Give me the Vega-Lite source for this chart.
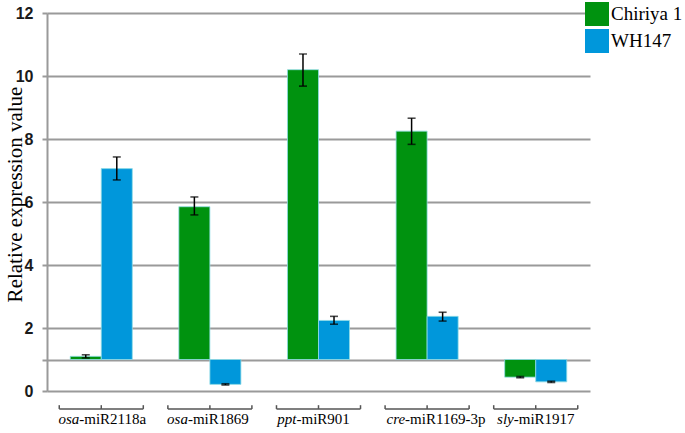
{
  "$schema": "https://vega.github.io/schema/vega-lite/v6.json",
  "width": 543,
  "height": 378,
  "autosize": {"type": "none"},
  "padding": {"left": 47, "top": 13, "right": 95, "bottom": 42},
  "background": "white",
  "config": {"view": {"stroke": null}},
  "datasets": {
    "bars": [
      {"mirna": "osa-miR2118a", "series": "Chiriya 1", "value": 1.10, "lo": 1.05, "hi": 1.15},
      {"mirna": "osa-miR2118a", "series": "WH147", "value": 7.06, "lo": 6.70, "hi": 7.43},
      {"mirna": "osa-miR1869", "series": "Chiriya 1", "value": 5.85, "lo": 5.59, "hi": 6.16},
      {"mirna": "osa-miR1869", "series": "WH147", "value": 0.21, "lo": 0.19, "hi": 0.23},
      {"mirna": "ppt-miR901", "series": "Chiriya 1", "value": 10.2, "lo": 9.68, "hi": 10.7},
      {"mirna": "ppt-miR901", "series": "WH147", "value": 2.24, "lo": 2.12, "hi": 2.37},
      {"mirna": "cre-miR1169-3p", "series": "Chiriya 1", "value": 8.25, "lo": 7.83, "hi": 8.66},
      {"mirna": "cre-miR1169-3p", "series": "WH147", "value": 2.37, "lo": 2.22, "hi": 2.50},
      {"mirna": "sly-miR1917", "series": "Chiriya 1", "value": 0.44, "lo": 0.42, "hi": 0.46},
      {"mirna": "sly-miR1917", "series": "WH147", "value": 0.29, "lo": 0.27, "hi": 0.31}
    ],
    "cats": [
      {"mirna": "osa-miR2118a", "pre": "osa-", "suf": "miR2118a"},
      {"mirna": "osa-miR1869", "pre": "osa-", "suf": "miR1869"},
      {"mirna": "ppt-miR901", "pre": "ppt-", "suf": "miR901"},
      {"mirna": "cre-miR1169-3p", "pre": "cre-", "suf": "miR1169-3p"},
      {"mirna": "sly-miR1917", "pre": "sly-", "suf": "miR1917"}
    ]
  },
  "layer": [
    {
      "data": {"name": "bars"},
      "mark": {"type": "bar", "stroke": "#8fdce6", "strokeWidth": 0.8},
      "encoding": {
        "x": {"field": "mirna", "type": "nominal", "axis": null,
              "scale": {"type": "band", "domain": ["osa-miR2118a", "osa-miR1869", "ppt-miR901", "cre-miR1169-3p", "sly-miR1917"], "paddingInner": 0.4286, "paddingOuter": 0.214}},
        "xOffset": {"field": "series", "type": "nominal", "scale": {"domain": ["Chiriya 1", "WH147"], "paddingInner": 0, "paddingOuter": 0}},
        "y": {"field": "value", "type": "quantitative",
              "scale": {"domain": [0, 12], "nice": false, "zero": true},
              "axis": {"values": [0, 1, 2, 4, 6, 8, 10, 12], "labelExpr": "datum.value == 1 ? '' : datum.label",
                       "grid": true, "gridColor": "#9a9a9a", "gridWidth": 2,
                       "domainColor": "#9a9a9a", "domainWidth": 2,
                       "tickColor": "#9a9a9a", "tickWidth": 2, "tickSize": 5,
                       "labelFont": "Liberation Sans", "labelFontWeight": "bold", "labelFontSize": 16, "labelColor": "#1a1a1a", "labelPadding": 9,
                       "title": "Relative expression value", "titleFont": "Liberation Serif", "titleFontSize": 21, "titleFontWeight": "normal", "titleColor": "#000",
                       "titleX": -32, "titleY": 181, "titleAngle": -90, "titleBaseline": "middle", "titleAlign": "center"}},
        "y2": {"datum": 1},
        "color": {"field": "series", "type": "nominal",
                  "scale": {"domain": ["Chiriya 1", "WH147"], "range": ["#00920f", "#0097db"]},
                  "legend": {"title": null, "orient": "none", "legendX": 538, "legendY": -11, "symbolType": "square", "symbolSize": 576, "symbolStrokeWidth": 0, "symbolOpacity": 1,
                             "labelFont": "Liberation Serif", "labelFontSize": 19, "labelColor": "#000", "rowPadding": 3, "labelOffset": 2, "padding": 0}}
      }
    },
    {
      "data": {"name": "bars"},
      "mark": {"type": "rule", "color": "#000", "strokeWidth": 1.5},
      "encoding": {
        "x": {"field": "mirna", "type": "nominal"},
        "xOffset": {"field": "series", "type": "nominal"},
        "y": {"field": "lo", "type": "quantitative"},
        "y2": {"field": "hi"}
      }
    },
    {
      "data": {"name": "bars"},
      "mark": {"type": "tick", "color": "#000", "size": 8, "thickness": 1.6, "orient": "horizontal"},
      "encoding": {
        "x": {"field": "mirna", "type": "nominal"},
        "xOffset": {"field": "series", "type": "nominal"},
        "y": {"field": "lo", "type": "quantitative"}
      }
    },
    {
      "data": {"name": "bars"},
      "mark": {"type": "tick", "color": "#000", "size": 8, "thickness": 1.6, "orient": "horizontal"},
      "encoding": {
        "x": {"field": "mirna", "type": "nominal"},
        "xOffset": {"field": "series", "type": "nominal"},
        "y": {"field": "hi", "type": "quantitative"}
      }
    },
    {
      "data": {"name": "cats"},
      "mark": {"type": "rule", "color": "#555", "strokeWidth": 1.5},
      "encoding": {
        "x": {"field": "mirna", "type": "nominal", "bandPosition": -0.177},
        "x2": {"field": "mirna", "bandPosition": 1.177},
        "y": {"datum": -0.57}
      }
    },
    {
      "data": {"name": "cats"},
      "mark": {"type": "rule", "color": "#555", "strokeWidth": 1.5},
      "encoding": {
        "x": {"field": "mirna", "type": "nominal", "bandPosition": -0.177},
        "y": {"datum": -0.45},
        "y2": {"datum": -0.57}
      }
    },
    {
      "data": {"name": "cats"},
      "mark": {"type": "rule", "color": "#555", "strokeWidth": 1.5},
      "encoding": {
        "x": {"field": "mirna", "type": "nominal", "bandPosition": 1.177},
        "y": {"datum": -0.45},
        "y2": {"datum": -0.57}
      }
    },
    {
      "data": {"name": "cats"},
      "mark": {"type": "rule", "color": "#555", "strokeWidth": 1.5},
      "encoding": {
        "x": {"field": "mirna", "type": "nominal", "bandPosition": 0.5},
        "y": {"datum": -0.45},
        "y2": {"datum": -0.57}
      }
    },
    {
      "data": {"name": "cats"},
      "mark": {"type": "text", "align": "right", "baseline": "alphabetic", "dx": -17, "font": "Liberation Serif", "fontStyle": "italic", "fontSize": 15, "color": "#000"},
      "encoding": {
        "x": {"field": "mirna", "type": "nominal"},
        "y": {"datum": -1.05},
        "text": {"field": "pre"}
      }
    },
    {
      "data": {"name": "cats"},
      "mark": {"type": "text", "align": "left", "baseline": "alphabetic", "dx": -17, "font": "Liberation Serif", "fontSize": 15, "color": "#000"},
      "encoding": {
        "x": {"field": "mirna", "type": "nominal"},
        "y": {"datum": -1.05},
        "text": {"field": "suf"}
      }
    }
  ]
}
